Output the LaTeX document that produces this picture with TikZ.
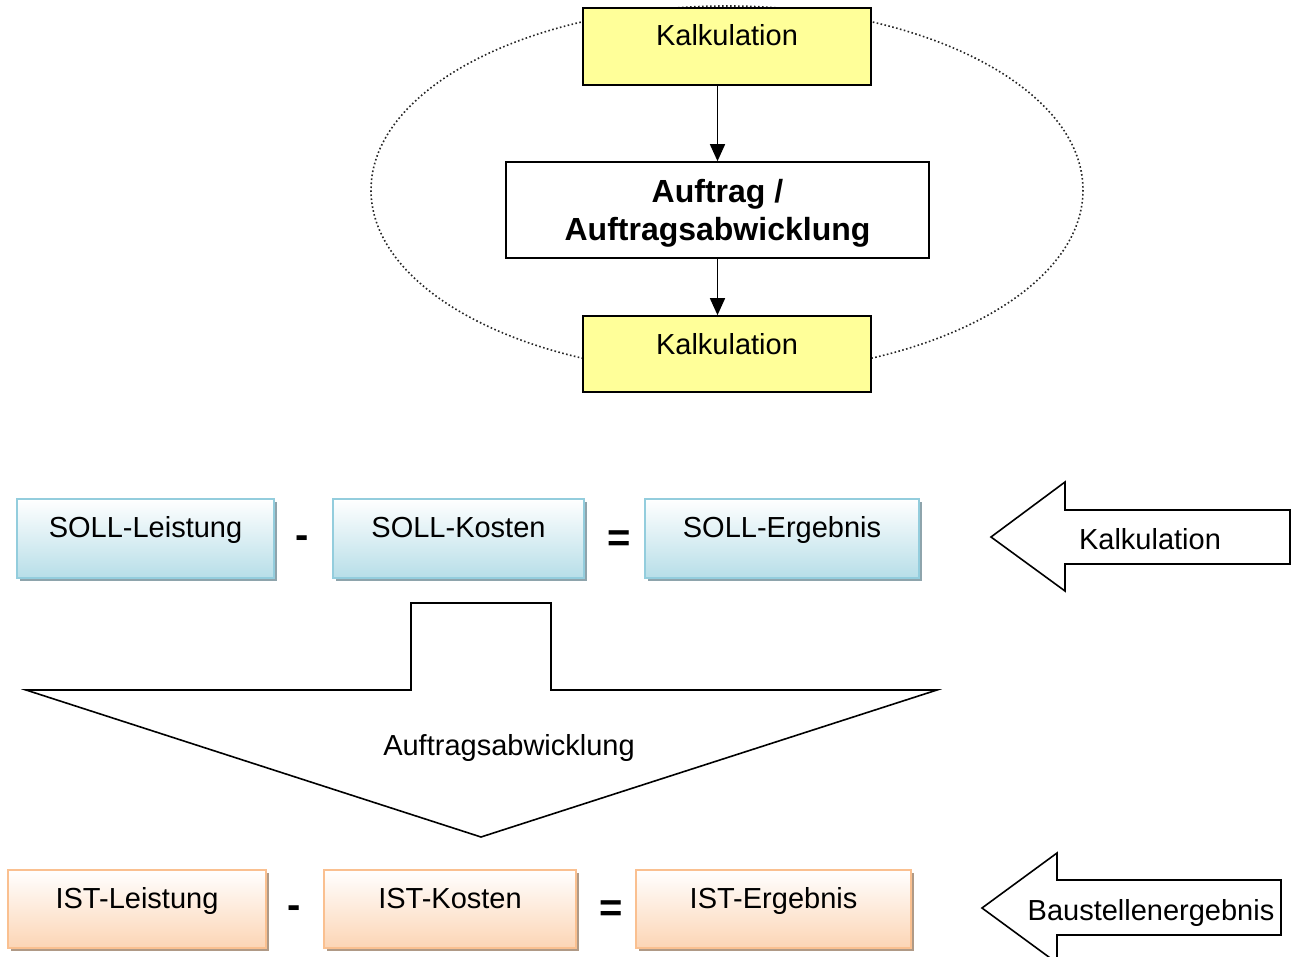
\documentclass[tikz,border=0pt]{standalone}
\usepackage{fontspec}
\setmainfont{Liberation Sans}
\usetikzlibrary{arrows.meta,shadows}
\definecolor{kalkgelb}{HTML}{FFFF99}
\definecolor{sollrand}{HTML}{93CDDD}
\definecolor{sollunten}{HTML}{B7DEE8}
\definecolor{sollschatten}{HTML}{8EA4AC}
\definecolor{istrand}{HTML}{FAC090}
\definecolor{istunten}{HTML}{FCD5B5}
\definecolor{istschatten}{HTML}{B09A86}

\begin{document}
\begin{tikzpicture}[x=1pt,y=-1pt,line width=1.6pt,font=\fontsize{29}{35}\selectfont,
  kbox/.style={draw=black,fill=kalkgelb,minimum width=288pt,inner sep=0pt,text height=38pt},
  sollbox/.style={draw=sollrand,line width=2.2pt,top color=white,bottom color=sollunten,inner sep=0pt,
    text height=38pt,text depth=41pt,drop shadow={shadow xshift=3pt,shadow yshift=-3pt,fill=sollschatten,opacity=1}},
  istbox/.style={draw=istrand,line width=2.2pt,top color=white,bottom color=istunten,inner sep=0pt,
    text height=38pt,text depth=40pt,drop shadow={shadow xshift=3pt,shadow yshift=-3pt,fill=istschatten,opacity=1}},
  op/.style={anchor=base,inner sep=0pt,font=\bfseries\fontsize{40}{48}\selectfont},
  pfeil/.style={-{Triangle[width=15pt,length=17pt]}}]
\useasboundingbox (0,0) rectangle (1295,957);
% Kreislauf oben
\draw[black!85,line width=1.6pt,dash pattern=on 1.6pt off 2.4pt] (727,190) ellipse [x radius=356,y radius=184];
\node[kbox,text depth=39pt] (ka) at (727,46.5) {Kalkulation};
\node[draw=black,fill=white,minimum width=423pt,minimum height=96pt,inner ysep=0pt,align=center,
  font=\bfseries\fontsize{32}{38}\selectfont] (au) at (717.5,210) {\rule{0pt}{29pt}Auftrag /\\Auftragsabwicklung};
\node[kbox,text depth=38pt] (kb) at (727,354) {Kalkulation};
\draw[pfeil] (ka.south -| au.north) -- (au.north);
\draw[pfeil] (au.south) -- (au.south |- kb.north);
% SOLL
\node[sollbox,minimum width=257pt] (sl) at (145.5,538.5) {SOLL-Leistung};
\node[op] (m1) at (302.5,548) {-};
\node[sollbox,minimum width=251pt] (sk) at (458.5,538.5) {SOLL-Kosten};
\node[op] (g1) at (619.5,551) {=};
\node[sollbox,minimum width=274pt] (se) at (782,538.5) {SOLL-Ergebnis};
\draw[fill=white] (991,537) -- (1065,482) -- (1065,510) -- (1290,510) -- (1290,564) -- (1065,564) -- (1065,591) -- cycle;
\node (kpf) at (1150,539) {Kalkulation};
% Auftragsabwicklung
\draw[fill=white] (411,603) -- (551,603) -- (551,690) -- (937,690) -- (481,837) -- (26,690) -- (411,690) -- cycle;
\node (apf) at (509,748) {Auftragsabwicklung};
% IST
\node[istbox,minimum width=258pt] (il) at (137,909) {IST-Leistung};
\node[op] (m2) at (294,918) {-};
\node[istbox,minimum width=252pt] (ik) at (450,909) {IST-Kosten};
\node[op] (g2) at (611,921) {=};
\node[istbox,minimum width=275pt] (ie) at (773.5,909) {IST-Ergebnis};
\draw[fill=white] (982,908) -- (1057,853) -- (1057,880) -- (1281,880) -- (1281,935) -- (1057,935) -- (1057,963) -- cycle;
\node (bpf) at (1151,913) {Baustellenergebnis};
\end{tikzpicture}
\end{document}
